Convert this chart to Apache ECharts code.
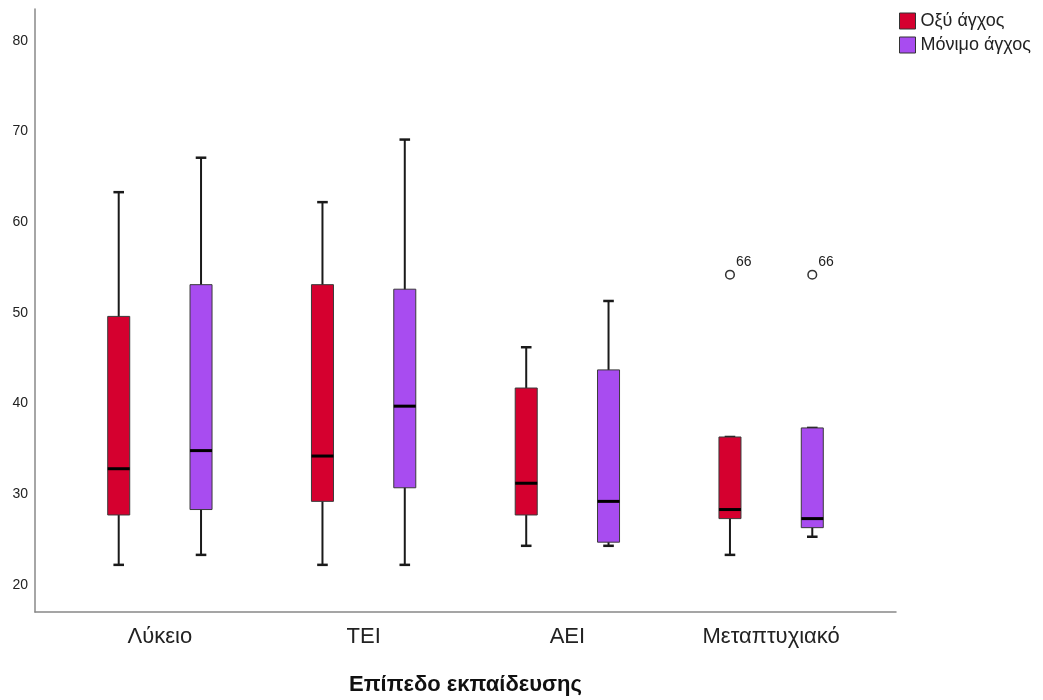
<!DOCTYPE html>
<html>
<head>
<meta charset="utf-8">
<script src="https://cdn.jsdelivr.net/npm/echarts@6/dist/echarts.min.js"></script>
<style>
html,body{margin:0;padding:0;background:#fff;}
#chart{width:1043px;height:700px;}
</style>
</head>
<body>
<div id="chart"></div>
<script>
// ---- data ----
const categories = ['Λύκειο', 'ΤΕΙ', 'ΑΕΙ', 'Μεταπτυχιακό'];
const seriesNames = ['Οξύ άγχος', 'Μόνιμο άγχος'];
// [min, Q1, median, Q3, max]
const acuteStats = [
  [22.2, 27.7, 32.8, 49.6, 63.3],
  [22.2, 29.2, 34.2, 53.1, 62.2],
  [24.3, 27.7, 31.2, 41.7, 46.2],
  [23.3, 27.3, 28.3, 36.3, 36.3]
];
const chronicStats = [
  [23.3, 28.3, 34.8, 53.1, 67.1],
  [22.2, 30.7, 39.7, 52.6, 69.1],
  [24.3, 24.7, 29.2, 43.7, 51.3],
  [25.3, 26.3, 27.3, 37.3, 37.3]
];
// outliers: [categoryIndex, value, caseLabel]
const acuteOutliers = [[3, 54.2, '66']];
const chronicOutliers = [[3, 54.2, '66']];
const yTickValues = [20, 30, 40, 50, 60, 70, 80];

// ---- styling ----
const FONT = "'Liberation Sans', Arial, sans-serif";
const colors = ['#d5002f', '#a84cf0'];
const offsets = [-0.202, 0.202];   // fraction of category band
const boxFrac = 0.108;
const capFrac = 0.052;

function boxRender(offsetFrac, color) {
  return function (params, api) {
    const cat = api.value(0);
    const band = api.size([1, 0])[0];
    const cx = api.coord([cat, 0])[0] + offsetFrac * band;
    const y = i => api.coord([cat, api.value(i)])[1];
    const w = band * boxFrac, cap = band * capFrac;
    const yMin = y(1), yQ1 = y(2), yMed = y(3), yQ3 = y(4), yMax = y(5);
    const lineStyle = { stroke: '#1a1a1a', lineWidth: 2 };
    return {
      type: 'group',
      children: [
        { type: 'line', shape: { x1: cx, y1: yMax, x2: cx, y2: yMin }, style: lineStyle },
        { type: 'line', shape: { x1: cx - cap / 2, y1: yMax, x2: cx + cap / 2, y2: yMax }, style: { stroke: '#1a1a1a', lineWidth: 2.5 } },
        { type: 'line', shape: { x1: cx - cap / 2, y1: yMin, x2: cx + cap / 2, y2: yMin }, style: { stroke: '#1a1a1a', lineWidth: 2.5 } },
        { type: 'rect', shape: { x: cx - w / 2, y: yQ3, width: w, height: yQ1 - yQ3 }, style: { fill: color, stroke: '#3a3a3a', lineWidth: 1 } },
        { type: 'line', shape: { x1: cx - w / 2, y1: yMed, x2: cx + w / 2, y2: yMed }, style: { stroke: '#000', lineWidth: 3 } }
      ]
    };
  };
}

function outlierRender(list, offsetFrac) {
  return function (params, api) {
    const cat = api.value(0);
    const band = api.size([1, 0])[0];
    const p = api.coord([cat, api.value(1)]);
    const cx = p[0] + offsetFrac * band, cy = p[1];
    const label = list[params.dataIndex][2];
    return {
      type: 'group',
      children: [
        { type: 'circle', shape: { cx: cx, cy: cy, r: 4.3 }, style: { fill: '#fff', stroke: '#333', lineWidth: 1.5 } },
        { type: 'text', x: cx + 6, y: cy - 13, style: { text: label, fill: '#222', font: '14px ' + FONT, align: 'left', verticalAlign: 'middle' } }
      ]
    };
  };
}

const boxData = stats => stats.map((s, i) => [i].concat(s));

const chart = echarts.init(document.getElementById('chart'));
chart.setOption({
  animation: false,
  backgroundColor: '#fff',
  textStyle: { fontFamily: FONT },
  legend: {
    orient: 'vertical',
    left: 894, top: 7,
    itemWidth: 16, itemHeight: 16, itemGap: 6,
    textStyle: { fontSize: 18, color: '#222', fontFamily: FONT },
    data: seriesNames.map((n, i) => ({ name: n, icon: 'rect', itemStyle: { color: colors[i], borderColor: '#333', borderWidth: 1 } }))
  },
  grid: [
    { left: 58, right: 170, top: 9, bottom: 88, containLabel: false, outerBoundsMode: 'none' },
    { left: 35, right: 147, top: 9, bottom: 88, containLabel: false, outerBoundsMode: 'none' }
  ],
  xAxis: [
    {
      type: 'category', gridIndex: 0, data: categories,
      axisLine: { show: false }, axisTick: { show: false },
      axisLabel: { fontSize: 22, color: '#222', margin: 14, fontFamily: FONT },
      name: 'Επίπεδο εκπαίδευσης', nameLocation: 'middle', nameGap: 62,
      nameTextStyle: { fontSize: 22, fontWeight: 'bold', color: '#111', fontFamily: FONT }
    },
    {
      type: 'value', gridIndex: 1, min: 0, max: 1,
      axisLine: { show: true, lineStyle: { color: '#888', width: 1.5 } },
      axisTick: { show: false }, axisLabel: { show: false }, splitLine: { show: false }
    }
  ],
  yAxis: [
    {
      type: 'value', gridIndex: 0, min: 17, max: 83.5, interval: 1, offset: 23,
      axisLine: { show: true, lineStyle: { color: '#888', width: 1.5 } },
      axisTick: { show: false }, splitLine: { show: false },
      axisLabel: {
        fontSize: 14, color: '#222', margin: 7, fontFamily: FONT,
        formatter: v => (yTickValues.indexOf(v) >= 0 ? String(v) : ''),
        showMinLabel: true, showMaxLabel: true
      }
    },
    { type: 'value', gridIndex: 1, min: 0, max: 1, show: false }
  ],
  series: [
    {
      name: seriesNames[0], type: 'custom', xAxisIndex: 0, yAxisIndex: 0,
      itemStyle: { color: colors[0] },
      renderItem: boxRender(offsets[0], colors[0]),
      encode: { x: 0, y: [1, 2, 3, 4, 5] },
      data: boxData(acuteStats)
    },
    {
      name: seriesNames[1], type: 'custom', xAxisIndex: 0, yAxisIndex: 0,
      itemStyle: { color: colors[1] },
      renderItem: boxRender(offsets[1], colors[1]),
      encode: { x: 0, y: [1, 2, 3, 4, 5] },
      data: boxData(chronicStats)
    },
    {
      name: seriesNames[0] + ' out', type: 'custom', xAxisIndex: 0, yAxisIndex: 0,
      renderItem: outlierRender(acuteOutliers, offsets[0]),
      encode: { x: 0, y: 1 },
      data: acuteOutliers.map(o => [o[0], o[1]])
    },
    {
      name: seriesNames[1] + ' out', type: 'custom', xAxisIndex: 0, yAxisIndex: 0,
      renderItem: outlierRender(chronicOutliers, offsets[1]),
      encode: { x: 0, y: 1 },
      data: chronicOutliers.map(o => [o[0], o[1]])
    }
  ]
});
</script>
</body>
</html>
